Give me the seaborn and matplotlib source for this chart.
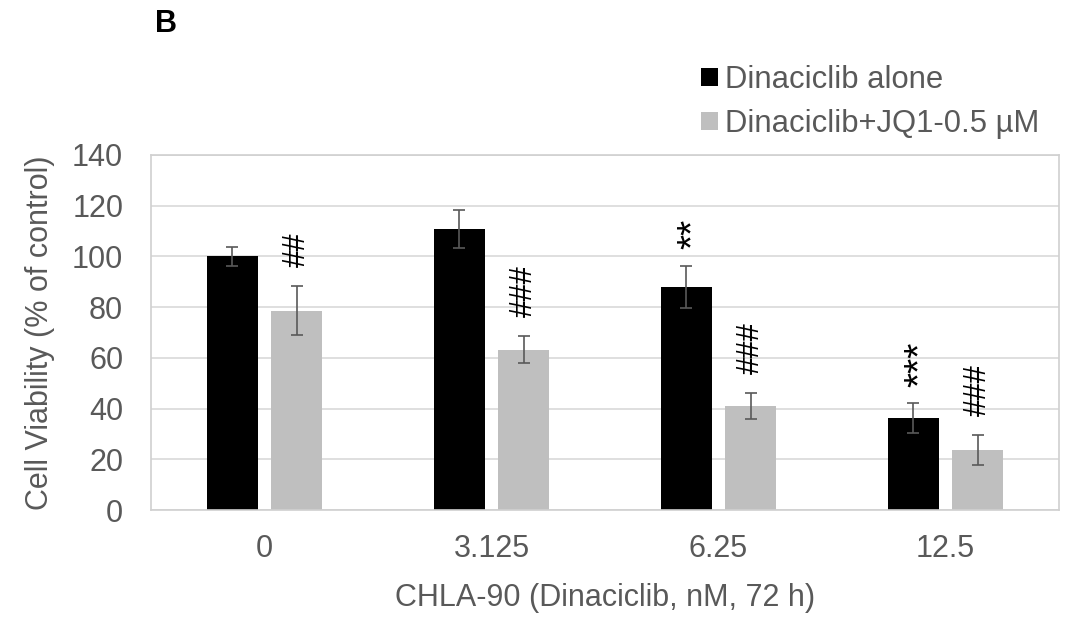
import numpy as np
import pandas as pd
import matplotlib
matplotlib.use("Agg")
import matplotlib.pyplot as plt
import matplotlib.transforms as mtransforms
from matplotlib.patches import Patch
import seaborn as sns

# Data: cell viability (% of control), mean and error per dose
doses = ["0", "3.125", "6.25", "12.5"]
groups = ["Dinaciclib alone", "Dinaciclib+JQ1-0.5 µM"]
alone_mean = [100.0, 110.9, 88.0, 36.3]
alone_err = [3.9, 7.6, 8.4, 5.9]
combo_mean = [78.6, 63.2, 41.0, 23.7]
combo_err = [9.6, 5.3, 5.1, 6.0]
alone_marks = ["", "", "**", "***"]
combo_marks = ["##", "###", "###", "###"]

colors = ["#000000", "#bfbfbf"]
text_grey = "#595959"

sns.set_style("white")
plt.rcParams["font.family"] = ["Liberation Sans", "DejaVu Sans"]
plt.rcParams["font.size"] = 22

df = pd.DataFrame({
    "dose": doses * 2,
    "group": [groups[0]] * 4 + [groups[1]] * 4,
    "viability": alone_mean + combo_mean,
})

fig = plt.figure(figsize=(10.69, 6.27), dpi=100)
ax = fig.add_axes([151 / 1069, 1 - 510 / 627, 908 / 1069, 355 / 627])

sns.barplot(data=df, x="dose", y="viability", hue="group", order=doses,
            hue_order=groups, palette=colors, errorbar=None, width=0.568,
            gap=0.21, saturation=1, linewidth=0, ax=ax)

# asterisks sit high in the em box; nudge them back onto the bar centre
star_tr = mtransforms.offset_copy(ax.transData, fig=fig, x=7, y=0, units="dots")

means = [alone_mean, combo_mean]
errs = [alone_err, combo_err]
marks = [alone_marks, combo_marks]
for cont, m, e, mk in zip(ax.containers, means, errs, marks):
    xs = [b.get_x() + b.get_width() / 2 for b in cont]
    ax.errorbar(xs, m, yerr=e, fmt="none", ecolor=text_grey, elinewidth=1.2,
                capsize=4.5, capthick=1.2, zorder=4)
    for x, y, er, s in zip(xs, m, e, mk):
        if not s:
            continue
        if s.startswith("*"):
            ax.text(x, y + er + 6.5, s, rotation=90, ha="center", va="bottom",
                    fontsize=28, color="black", zorder=5, transform=star_tr)
        else:
            ax.text(x, y + er + 7.5, s, rotation=90, ha="center", va="bottom",
                    fontsize=22.5, color="black", zorder=5)

ax.set_ylim(0, 140)
ax.set_xlim(-0.5, 3.5)
ax.set_yticks(np.arange(0, 141, 20))
ax.yaxis.grid(True, color="#d9d9d9", linewidth=1.2)
ax.set_axisbelow(True)
for sp in ax.spines.values():
    sp.set_visible(True)
    sp.set_color("#d0d0d0")
    sp.set_linewidth(1.2)

ax.tick_params(axis="both", length=0, colors=text_grey, labelsize=22)
ax.tick_params(axis="y", pad=20)
ax.tick_params(axis="x", pad=17)
ax.set_xlabel("CHLA-90 (Dinaciclib, nM, 72 h)", color=text_grey, fontsize=22,
              labelpad=14)
ax.set_ylabel("Cell Viability (% of control)", color=text_grey, fontsize=22,
              labelpad=12)

if ax.get_legend() is not None:
    ax.get_legend().remove()
handles = [Patch(facecolor=c, edgecolor="none") for c in colors]
fig.legend(handles, groups, loc="upper left",
           bbox_to_anchor=(701 / 1069, 1 - 65 / 627), frameon=False,
           fontsize=22.3, labelcolor=text_grey, handlelength=0.54,
           handleheight=0.54, handletextpad=0.25, labelspacing=0.45,
           borderpad=0, borderaxespad=0)

fig.text(155 / 1069, 1 - 32 / 627, "B", fontsize=22, fontweight="bold",
         color="black", va="baseline", ha="left")

fig.savefig("out.png", dpi=100)
